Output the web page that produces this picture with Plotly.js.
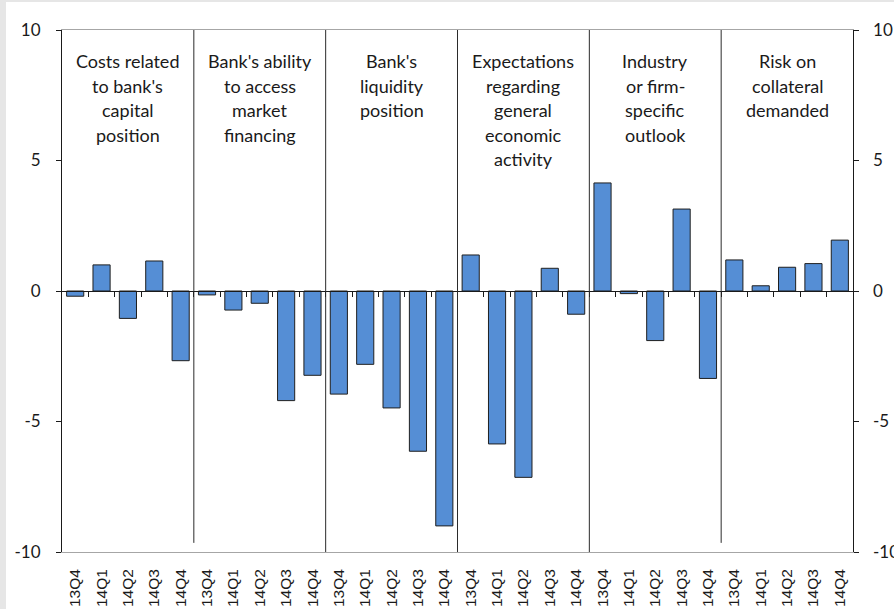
<!DOCTYPE html>
<html>
<head>
<meta charset="utf-8">
<script src="https://cdn.plot.ly/plotly-3.0.1.min.js"></script>
<style>html,body{margin:0;padding:0;background:#fff;}#chart{width:894px;height:609px;}</style>
</head>
<body>
<div id="chart"></div>
<script>
// ---- data ----
const quarters = ["13Q4", "14Q1", "14Q2", "14Q3", "14Q4"];
const groupTitles = [
  ["Costs related", "to bank's", "capital", "position"],
  ["Bank's ability", "to access", "market", "financing"],
  ["Bank's", "liquidity", "position"],
  ["Expectations", "regarding", "general", "economic", "activity"],
  ["Industry", "or firm-", "specific", "outlook"],
  ["Risk on", "collateral", "demanded"]
];
const capitalCosts        = [-0.20, 1.00, -1.05, 1.15, -2.67];
const marketAccess        = [-0.15, -0.73, -0.47, -4.20, -3.23];
const liquidityPosition   = [-3.95, -2.81, -4.48, -6.14, -9.00];
const economicActivity    = [1.38, -5.86, -7.14, 0.87, -0.89];
const industryOutlook     = [4.14, -0.10, -1.90, 3.14, -3.35];
const collateralRisk      = [1.19, 0.20, 0.91, 1.05, 1.95];
const seriesByGroup = [capitalCosts, marketAccess, liquidityPosition, economicActivity, industryOutlook, collateralRisk];
const yTicks = [-10, -5, 0, 5, 10];

// ---- build ----
const n = quarters.length;
const xs = [], ys = [], tickText = [];
seriesByGroup.forEach((vals, g) => {
  vals.forEach((v, i) => { xs.push(g * n + i); ys.push(v); tickText.push(quarters[i]); });
});
const total = xs.length;
const boundaries = [];
for (let k = 0; k < total - 1; k++) boundaries.push(k + 0.5);

const traces = [
  {type: 'bar', x: xs, y: ys, width: 0.65,
   marker: {color: '#558ED5', line: {color: '#1f1f1f', width: 1}},
   hoverinfo: 'x+y', showlegend: false},
  {type: 'scatter', mode: 'markers', x: [0], y: [0], xaxis: 'x2', yaxis: 'y',
   marker: {opacity: 0}, hoverinfo: 'skip', showlegend: false},
  {type: 'scatter', mode: 'markers', x: [0], y: [0], xaxis: 'x', yaxis: 'y2',
   marker: {opacity: 0}, hoverinfo: 'skip', showlegend: false}
];

const shapes = [];
const dividerBottoms = [-9.65, -10, -10, -10, -9.65];
for (let g = 1; g < seriesByGroup.length; g++) {
  shapes.push({type: 'line', xref: 'x', yref: 'y', x0: g * n - 0.5, x1: g * n - 0.5,
    y0: dividerBottoms[g - 1], y1: 10, line: {color: '#2b2b2b', width: 1}, layer: 'above'});
}
// light grey frame strips of the original image
const L = 62, R = 41, T = 30, B = 57, W = 894, H = 609;
const pw = W - L - R, ph = H - T - B;
shapes.push({type: 'rect', xref: 'paper', yref: 'paper', x0: -L / pw, x1: (6 - L) / pw,
  y0: -B / ph, y1: 1 + T / ph, fillcolor: '#e6e6e6', line: {width: 0}, layer: 'below'});
shapes.push({type: 'rect', xref: 'paper', yref: 'paper', x0: -L / pw, x1: 1 + R / pw,
  y0: 1 + (T - 2) / ph, y1: 1 + T / ph, fillcolor: '#e6e6e6', line: {width: 0}, layer: 'below'});

const annotations = [];
groupTitles.forEach((lines, g) => {
  lines.forEach((txt, i) => {
    annotations.push({xref: 'x', yref: 'paper', x: g * n + (n - 1) / 2, y: 1,
      yanchor: 'middle', yshift: -31 - i * 24.5, text: txt, showarrow: false,
      font: {family: 'Lato, Carlito, sans-serif', size: 18, color: '#1a1a1a'}});
  });
});

const yCommon = {range: [-10, 10], tickvals: yTicks, ticktext: yTicks.map(String),
  showgrid: false, zeroline: false, showline: true, linecolor: '#1a1a1a', linewidth: 1,
  ticks: 'outside', ticklen: 5, tickcolor: '#1a1a1a',
  tickfont: {family: 'Lato, Carlito, sans-serif', size: 17, color: '#1a1a1a'}, fixedrange: true};

const layout = {
  width: W, height: H,
  margin: {l: L, r: R, t: T, b: B, pad: 0},
  paper_bgcolor: '#ffffff', plot_bgcolor: '#ffffff',
  showlegend: false, bargap: 0.35,
  xaxis: {range: [-0.5, total - 0.5], tickvals: xs, ticktext: tickText, tickangle: -90,
    showgrid: false, zeroline: false, showline: true, linecolor: '#a6a6a6', linewidth: 1, mirror: true,
    ticks: 'outside', ticklen: 10, tickcolor: 'rgba(0,0,0,0)',
    tickfont: {family: 'Liberation Sans, Arial, sans-serif', size: 15.5, color: '#1a1a1a'}, fixedrange: true},
  xaxis2: {overlaying: 'x', anchor: 'free', position: 0.5, range: [-0.5, total - 0.5],
    tickvals: boundaries, ticks: 'outside', ticklen: 5, tickcolor: '#1a1a1a',
    showticklabels: false, showgrid: false, zeroline: false, showline: true,
    linecolor: '#1a1a1a', linewidth: 1, fixedrange: true},
  yaxis: Object.assign({}, yCommon, {ticklabelstandoff: 12}),
  yaxis2: Object.assign({}, yCommon, {overlaying: 'y', side: 'right', anchor: 'x',
    ticktext: yTicks.map(v => '\u2002\u2009' + v)}),
  shapes: shapes,
  annotations: annotations
};

Plotly.newPlot('chart', traces, layout, {displayModeBar: false, staticPlot: true});
</script>
</body>
</html>
